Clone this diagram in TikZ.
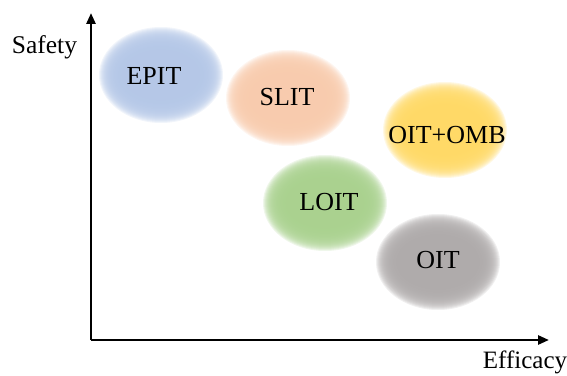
\documentclass[tikz,border=0pt]{standalone}
\usepackage{fontspec}
\setmainfont{Liberation Serif}
\usetikzlibrary{arrows.meta}

\definecolor{epitblue}{HTML}{B4C7E7}
\definecolor{slitpeach}{HTML}{F8CBAD}
\definecolor{ombyellow}{HTML}{FFD966}
\definecolor{loitgreen}{HTML}{A9D18E}
\definecolor{oitgray}{HTML}{AEAAAA}

\begin{document}
\begin{tikzpicture}[x=1pt, y=1pt,
    axis/.style={line width=2.6pt, -{Triangle[length=11pt,width=9pt]}},
    every node/.style={font=\fontsize{26}{30}\selectfont, inner sep=0pt}]
    \useasboundingbox (0,0) rectangle (567,375);

    % soft blobs with their labels
    \foreach \n/\x/\y/\c/\tx/\ty/\t in {
        epit/161/300/epitblue/154/299/EPIT,
        slit/288/277/slitpeach/287/278/SLIT,
        oitomb/445/245/ombyellow/447/240/OIT+OMB,
        loit/325/172/loitgreen/329/173/LOIT,
        oit/438/113/oitgray/438/115/OIT} {
        \foreach \k in {0,...,23} {
            \fill[\c, opacity=0.18] (\x,\y) ellipse ({62-\k} and {48-\k});
        }
        \node (\n) at (\tx,\ty) {\t};
    }

    % axes
    \coordinate (O) at (91,35);
    \coordinate (ytip) at (91,362);
    \coordinate (xtip) at (549,35);
    \draw[axis] (O) -- (ytip);
    \draw[axis] (O) -- (xtip);

    \node[anchor=base, font=\fontsize{25.5}{30}\selectfont] (safety) at (44.5,321) {Safety};
    \node[anchor=base, font=\fontsize{25}{30}\selectfont] (efficacy) at (525,7) {Efficacy};
\end{tikzpicture}
\end{document}
